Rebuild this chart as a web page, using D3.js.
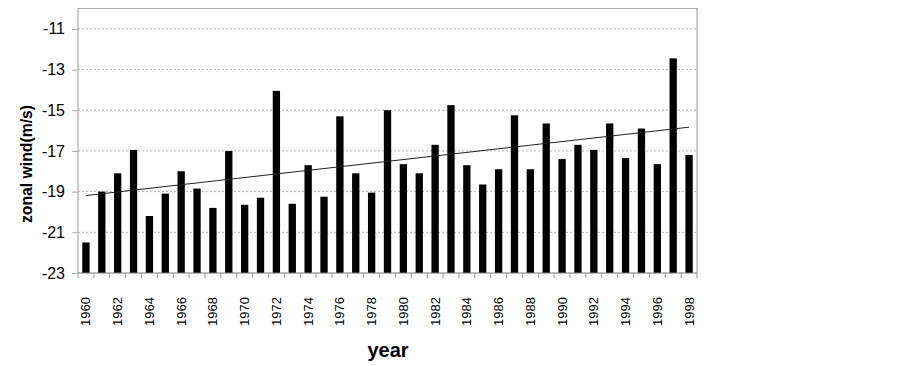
<!DOCTYPE html>
<html>
<head>
<meta charset="utf-8">
<script src="https://cdn.jsdelivr.net/npm/d3@7"></script>
<style>
  body { margin: 0; background: #fff; }
  text { font-family: Arial, "Liberation Sans", sans-serif; }
</style>
</head>
<body>
<div id="chart"></div>
<script>
const years = d3.range(1960, 1999);
const wind = [-21.5, -19.0, -18.1, -16.95, -20.2, -19.1, -18.0, -18.85, -19.8, -17.0,
  -19.65, -19.3, -14.05, -19.6, -17.7, -19.25, -15.3, -18.1, -19.05, -15.0,
  -17.65, -18.1, -16.7, -14.75, -17.7, -18.65, -17.9, -15.25, -17.9, -15.65,
  -17.4, -16.7, -16.95, -15.65, -17.35, -15.9, -17.65, -12.45, -17.2];
const yTicks = [-11, -13, -15, -17, -19, -21, -23];
const labelYears = years.filter(d => (d - 1960) % 2 === 0);

const margin = {top: 8.5, right: 206, bottom: 93, left: 78},
    width = 903 - margin.left - margin.right,
    height = 366 - margin.top - margin.bottom;

const svg = d3.select("#chart")
  .append("svg")
    .attr("width", 903)
    .attr("height", 366)
  .append("g")
    .attr("transform", `translate(${margin.left},${margin.top})`);

const x = d3.scaleBand()
  .domain(years)
  .range([0, width])
  .paddingInner(0.54)
  .paddingOuter(0.27);

const y = d3.scaleLinear()
  .domain([-23, -10])
  .range([height, 0]);

// gridlines
svg.append("g")
  .selectAll("line")
  .data(yTicks.filter(d => d !== -23))
  .join("line")
    .attr("x1", 0)
    .attr("x2", width)
    .attr("y1", d => y(d))
    .attr("y2", d => y(d))
    .attr("stroke", "#b5b5b5")
    .attr("stroke-dasharray", "2,2");

// frame
svg.append("path")
  .attr("d", `M0,${height}V0H${width}V${height}`)
  .attr("fill", "none")
  .attr("stroke", "#a8a8a8")
  .attr("stroke-width", 1.2);

// bars
svg.append("g")
  .selectAll("rect")
  .data(years.map((yr, i) => ({year: yr, value: wind[i]})))
  .join("rect")
    .attr("x", d => x(d.year))
    .attr("y", d => y(d.value))
    .attr("width", x.bandwidth())
    .attr("height", d => y(-23) - y(d.value))
    .attr("fill", "#000");

// linear trend line (least squares)
const n = years.length;
const mx = d3.mean(years), my = d3.mean(wind);
const slope = d3.sum(years, (d, i) => (d - mx) * (wind[i] - my)) / d3.sum(years, d => (d - mx) ** 2);
const icpt = my - slope * mx;
const xc = d => x(d) + x.bandwidth() / 2;
svg.append("line")
  .attr("x1", xc(years[0]))
  .attr("x2", xc(years[n - 1]))
  .attr("y1", y(icpt + slope * years[0]))
  .attr("y2", y(icpt + slope * years[n - 1]))
  .attr("stroke", "#222")
  .attr("stroke-width", 1);

// x axis line and ticks at category boundaries
svg.append("line")
  .attr("x1", 0).attr("x2", width)
  .attr("y1", height).attr("y2", height)
  .attr("stroke", "#777");
svg.append("g")
  .selectAll("line")
  .data(d3.range(n + 1))
  .join("line")
    .attr("x1", i => i * width / n)
    .attr("x2", i => i * width / n)
    .attr("y1", height)
    .attr("y2", height + 5)
    .attr("stroke", "#999");

// y axis
const yAxis = svg.append("g")
  .call(d3.axisLeft(y).tickValues(yTicks).tickSize(6).tickFormat(d => String(d)));
yAxis.select(".domain").remove();
yAxis.selectAll(".tick line").attr("stroke", "#aaa");
yAxis.selectAll(".tick text")
  .attr("x", -13)
  .attr("font-size", 16)
  .attr("fill", "#000")
  .style("font-family", "Arial, 'Liberation Sans', sans-serif");

// x tick labels
svg.append("g")
  .selectAll("text")
  .data(labelYears)
  .join("text")
    .attr("transform", d => `translate(${xc(d) + 4.5},${height + 24}) rotate(-90)`)
    .attr("text-anchor", "end")
    .attr("font-size", 13)
    .text(d => d);

// axis titles
svg.append("text")
  .attr("transform", `translate(${388 - margin.left},${357 - margin.top})`)
  .attr("text-anchor", "middle")
  .attr("font-size", 20)
  .attr("font-weight", "bold")
  .text("year");

svg.append("text")
  .attr("transform", `translate(${32 - margin.left},${164 - margin.top}) rotate(-90)`)
  .attr("text-anchor", "middle")
  .attr("font-size", 16)
  .attr("font-weight", "bold")
  .attr("textLength", 118)
  .attr("lengthAdjust", "spacingAndGlyphs")
  .text("zonal wind(m/s)");
</script>
</body>
</html>
